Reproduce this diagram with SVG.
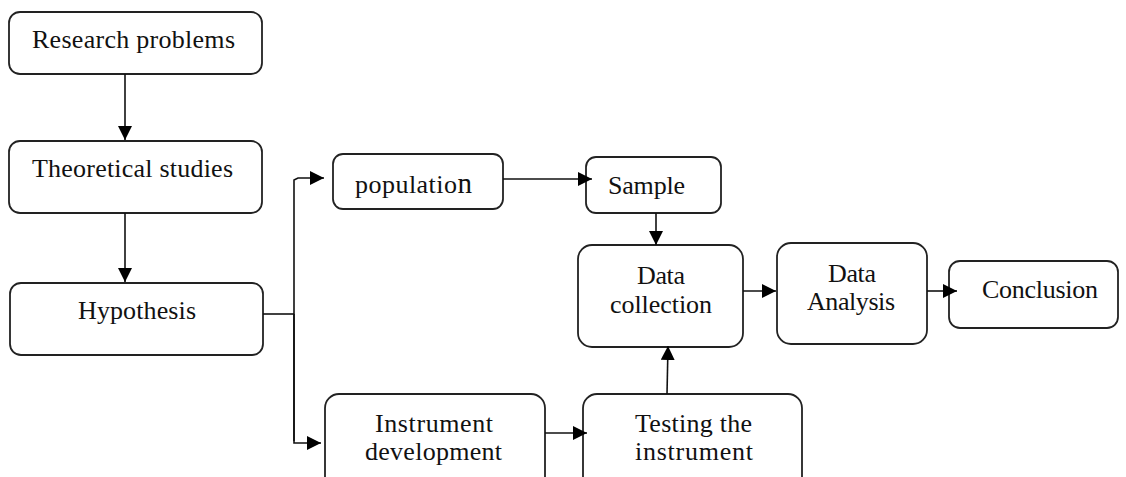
<svg xmlns="http://www.w3.org/2000/svg" width="1126" height="477" viewBox="0 0 1126 477">
<style>
.box{fill:#fff;stroke:#222;stroke-width:1.8}
.t{font-family:"Liberation Serif","Times New Roman",serif;font-size:26px;fill:#111;text-anchor:middle}
.c{fill:none;stroke:#111;stroke-width:1.6}
</style>
<defs>
<marker id="ah" viewBox="0 0 14 14" refX="14" refY="7" markerWidth="14" markerHeight="14" markerUnits="userSpaceOnUse" orient="auto">
<path d="M0,0 L14,7 L0,14 Z" fill="#000"/>
</marker>
</defs>
<rect width="1126" height="477" fill="#fff"/>
<g id="research-problems">
<rect class="box" x="9" y="12" width="253" height="62" rx="11"/>
<text class="t" x="133.5" y="48" textLength="203">Research problems</text>
</g>
<g id="theoretical-studies">
<rect class="box" x="9" y="141" width="253" height="72" rx="11"/>
<text class="t" x="132.5" y="177" textLength="201">Theoretical studies</text>
</g>
<g id="hypothesis">
<rect class="box" x="10" y="283" width="253" height="72" rx="11"/>
<text class="t" x="137" y="319" textLength="118">Hypothesis</text>
</g>
<g id="population">
<rect class="box" x="333" y="154" width="170" height="55" rx="10"/>
<text class="t" x="413.5" y="193" textLength="117">populatio<tspan font-size="29">n</tspan></text>
</g>
<g id="sample">
<rect class="box" x="586" y="157" width="135" height="56" rx="10"/>
<text class="t" x="646.5" y="194" textLength="77">Sample</text>
</g>
<g id="data-collection">
<rect class="box" x="578" y="245" width="165" height="102" rx="14"/>
<text class="t" x="661" y="284" textLength="48">Data</text>
<text class="t" x="661" y="313" textLength="102">collection</text>
</g>
<g id="data-analysis">
<rect class="box" x="777" y="243" width="150" height="101" rx="14"/>
<text class="t" x="852" y="282" textLength="48">Data</text>
<text class="t" x="851" y="310" textLength="88">Analysis</text>
</g>
<g id="conclusion">
<rect class="box" x="949" y="261" width="169" height="67" rx="11"/>
<text class="t" x="1040" y="298" textLength="116">Conclusion</text>
</g>
<g id="instrument-development">
<rect class="box" x="325" y="394" width="220" height="110" rx="14"/>
<text class="t" x="434" y="432" textLength="118">Instrument</text>
<text class="t" x="433.5" y="460" textLength="137">development</text>
</g>
<g id="testing-the-instrument">
<rect class="box" x="583" y="394" width="219" height="110" rx="14"/>
<text class="t" x="693.5" y="432" textLength="117">Testing the</text>
<text class="t" x="694" y="460" textLength="118">instrument</text>
</g>
<g id="connectors">
<line class="c" x1="125" y1="74" x2="125" y2="140" marker-end="url(#ah)"/>
<line class="c" x1="125" y1="213" x2="125" y2="282" marker-end="url(#ah)"/>
<polyline class="c" points="263,314 294,314"/>
<polyline class="c" points="294,441 294,180 298,178 324,178" marker-end="url(#ah)"/>
<polyline class="c" points="294,314 294,443 321,443" marker-end="url(#ah)"/>
<line class="c" x1="503" y1="179" x2="592" y2="179" marker-end="url(#ah)"/>
<line class="c" x1="656" y1="213" x2="656" y2="245" marker-end="url(#ah)"/>
<line class="c" x1="743" y1="291" x2="776" y2="291" marker-end="url(#ah)"/>
<line class="c" x1="927" y1="291" x2="957" y2="291" marker-end="url(#ah)"/>
<line class="c" x1="545" y1="433" x2="587" y2="433" marker-end="url(#ah)"/>
<line class="c" x1="667" y1="394" x2="668" y2="346" marker-end="url(#ah)"/>
</g>
</svg>
